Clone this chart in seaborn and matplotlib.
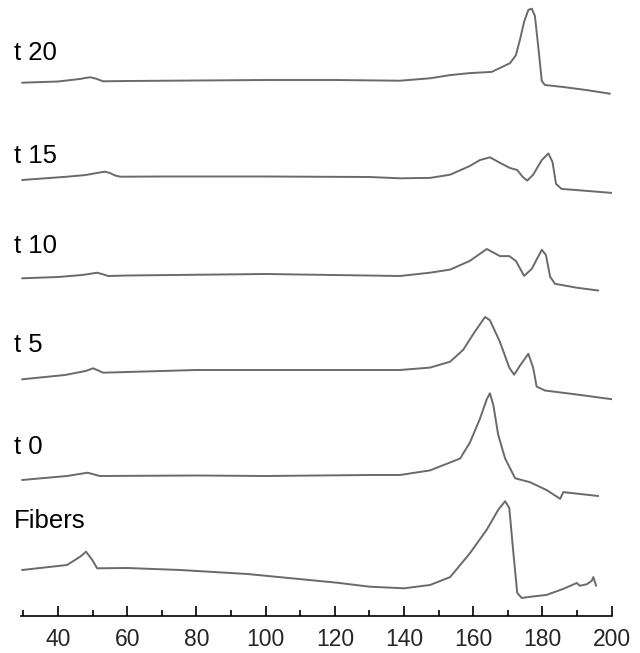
"""Stacked DSC thermograms: fibers and t0..t20 samples."""

import numpy as np
import pandas as pd
import matplotlib
matplotlib.use("Agg")
import matplotlib.pyplot as plt
import seaborn as sns
from matplotlib.ticker import MultipleLocator

# temperature (deg C) and heat flow (arb. units, relative to the first point)
t20_temp = [29.6, 40, 45, 46.5, 48, 49.3, 51, 53, 60, 80, 100, 120, 138.8,
            147.5, 153.3, 159.0, 165.3, 167.7, 170.6, 172.3, 173.5, 174.7, 175.9,
            176.9, 177.8, 178.8, 179.8, 180.7, 186.0, 192.8, 199.5]
t20_flow = [0, 1.2, 3.2, 3.8, 4.8, 5.4, 4.0, 1.4, 1.7, 2.2, 2.7, 2.7, 2.0,
            4.4, 7.6, 9.6, 10.8, 14.7, 19.5, 27.4, 43.2, 61.0, 72.8,
            74.0, 66.9, 35.3, 1.7, -2.3, -4.3, -7.4, -11.0]

t15_temp = [29.6, 42.6, 48, 52, 53.6, 55, 56.5, 58, 70, 100, 130, 138.8,
            147.5, 153.3, 159.0, 161.9, 164.8, 167.7, 170.6, 172.7, 174.3, 175.6,
            177.3, 179.8, 181.7, 182.9, 183.9, 185.5, 192.8, 200]
t15_flow = [0, 3.3, 5, 7.5, 8.3, 7, 4.5, 3.3, 3.5, 3.5, 3, 1.7,
            2.1, 5.3, 14, 19.9, 22.7, 17.2, 12, 10, 3, -0.6,
            5.3, 19.9, 26.6, 18, -3.8, -8.9, -10.9, -12.9]

t10_temp = [29.6, 40, 47, 51.3, 53, 54.5, 60, 100, 138.8,
            147.5, 153.3, 159.0, 163.9, 167.7, 170.4, 172.3, 174.7, 176.9, 179.8,
            181.0, 182.2, 183.6, 189.9, 196.1]
t10_flow = [0, 1.3, 3.3, 5.6, 4, 2.3, 2.8, 4.3, 2.3,
            5.6, 8.7, 17.4, 29.3, 22.2, 22.2, 17.4, 2.4, 9.5, 28.5,
            23.3, 1.6, -5.5, -9.4, -12.2]

t5_temp = [29.6, 42, 48, 50.1, 51.5, 53, 60, 80, 100, 138.8,
           147.5, 153.3, 157.1, 160.0, 163.4, 164.8, 167.7, 170.4, 171.8, 173.5,
           175.9, 177.3, 178.3, 180.7, 189.9, 200]
t5_flow = [0, 4.3, 8.3, 11, 9, 6.6, 7.3, 9.3, 9.3, 9.3,
           11.7, 17.6, 29.5, 45.3, 62.3, 59.1, 37.4, 11.7, 4.6, 13.7,
           25.5, 11.7, -7.3, -11.2, -15.2, -19.9]

t0_temp = [29.6, 42.6, 48.5, 50.5, 52, 80, 100, 130, 138.8,
           147.5, 156.2, 159.0, 161.9, 163.9, 164.8, 165.8, 167.2, 169.2, 172.1,
           176.4, 181.2, 185.1, 186.0, 196.1]
t0_flow = [0, 4, 7.3, 5.5, 4, 4.5, 4, 5, 5,
           9.6, 21.5, 37.3, 61, 80.8, 86.7, 74.9, 45.2, 21.5, 1.7,
           -2.2, -10.1, -18.8, -12.1, -16]

fib_temp = [29.6, 42.6, 46.4, 48.1, 49.9, 51.3, 60, 75.3, 94.7, 120.6, 130.1, 140,
            147.5, 153.3, 159.0, 163.9, 167.2, 169.2, 170.4, 171.6, 172.7, 174.0,
            176.4, 181.2, 186.0, 189.9, 190.8, 192.8, 194.2, 194.7, 195.5]
fib_flow = [0, 5, 13.3, 18.3, 10, 1.7, 2, 0, -4, -12.7, -16.7, -18.3,
            -15, -7.1, 16.6, 40.4, 60.1, 68.8, 62.1, 16.6, -22.9, -28,
            -26.8, -24.9, -18.9, -13, -15.8, -14.2, -11, -7.1, -15.8]

labels = ["t 20", "t 15", "t 10", "t 5", "t 0", "Fibers"]
curves = [(t20_temp, t20_flow), (t15_temp, t15_flow), (t10_temp, t10_flow),
          (t5_temp, t5_flow), (t0_temp, t0_flow), (fib_temp, fib_flow)]

# vertical stacking (layout only)
offsets = [533.3, 436, 337.7, 236.7, 136, 46]
label_y = [60, 163, 253, 352, 454, 528]   # text baselines, pixels from top

W, H = 640, 653
AX_BOTTOM = 616  # pixel row of the axis line


def build_frame():
    rows = []
    for name, (temp, flow), off in zip(labels, curves, offsets):
        for t, f in zip(temp, flow):
            rows.append({"sample": name, "temp": t, "signal": f + off})
    return pd.DataFrame(rows)


def main():
    sns.set_theme(style="white")
    plt.rcParams["font.family"] = ["Liberation Sans", "DejaVu Sans"]

    df = build_frame()
    fig = plt.figure(figsize=(W / 100, H / 100), dpi=100)
    ax = fig.add_axes([21 / W, (H - AX_BOTTOM) / H, (611.7 - 21) / W, AX_BOTTOM / H])

    sns.lineplot(data=df, x="temp", y="signal", units="sample", estimator=None,
                 sort=False, color="#6a6a6a", linewidth=1.4, ax=ax)
    for line in ax.lines:
        line.set_solid_joinstyle("round")

    ax.set_xlim(29.3, 200)
    ax.set_ylim(0, AX_BOTTOM)
    ax.set_xlabel("")
    ax.set_ylabel("")
    ax.set_yticks([])
    for side in ("left", "top", "right"):
        ax.spines[side].set_visible(False)
    ax.spines["bottom"].set_color("black")
    ax.spines["bottom"].set_linewidth(1.2)

    ax.xaxis.set_minor_locator(MultipleLocator(10))
    ax.set_xticks(np.arange(40, 201, 20))
    ax.tick_params(axis="x", which="major", direction="in", length=7, width=1.2,
                   color="black", labelsize=16.5, pad=9, bottom=True)
    ax.tick_params(axis="x", which="minor", direction="in", length=4.5, width=1.2,
                   color="black", bottom=True)

    for name, yb in zip(labels, label_y):
        fig.text(14 / W, 1 - yb / H, name, fontsize=18.5, va="baseline", ha="left",
                 color="black")

    fig.savefig("out.png", dpi=100)
    print("Saved out.png")


if __name__ == "__main__":
    main()
